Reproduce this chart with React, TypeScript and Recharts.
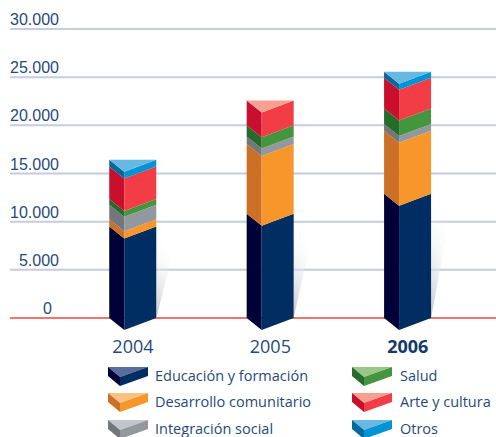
import { Bar, BarChart, CartesianGrid, Legend, XAxis, YAxis } from 'recharts'

const years = ['2004', '2005', '2006']
const educacion = [9490, 10810, 12890]
const desarrollo = [770, 7250, 6550]
const integracion = [1490, 790, 690]
const salud = [590, 1150, 1630]
const arte = [3390, 2590, 3190]
const otros = [690, 0, 620]

const yTicks = [0, 5000, 10000, 15000, 20000, 25000, 30000]
const tickLabels = ['0', '5.000', '10.000', '15.000', '20.000', '25.000', '30.000']

const seriesList = [
  { key: 'educacion', name: 'Educación y formación', values: educacion, front: '#002d62', side: '#000038', top: '#5a6d9e' },
  { key: 'desarrollo', name: 'Desarrollo comunitario', values: desarrollo, front: '#f7962a', side: '#cc7028', top: '#fcc27f' },
  { key: 'integracion', name: 'Integración social', values: integracion, front: '#93989e', side: '#73777c', top: '#c2c6ca' },
  { key: 'salud', name: 'Salud', values: salud, front: '#43963e', side: '#266b2a', top: '#9bc68a' },
  { key: 'arte', name: 'Arte y cultura', values: arte, front: '#f23c46', side: '#c8102e', top: '#f5a090' },
  { key: 'otros', name: 'Otros', values: otros, front: '#0094d4', side: '#006b9a', top: '#68b8e4' }
]

const data = years.map((year, i) => {
  const row: Record<string, string | number> = { year }
  seriesList.forEach(s => {
    row[s.key] = s.values[i]
  })
  return row
})

const TEXT = '#1f4a7c'
const SIDE_W = 15
const DROP = 12

function isTopSegment(index: number, yearIndex: number) {
  return seriesList.slice(index + 1).every(s => s.values[yearIndex] === 0)
}

function Segment(props: any) {
  const { x, y, width, height, seriesIndex, index } = props
  const s = seriesList[seriesIndex]
  if (!height) return null
  const mid = x + SIDE_W
  const right = x + width
  return (
    <g>
      {seriesIndex === 0 && (
        <g>
          <defs>
            <linearGradient id={`shadow${index}`} x1='0' y1='1' x2='0.35' y2='0'>
              <stop offset='0%' stopColor='#c2c4ca' />
              <stop offset='100%' stopColor='#ffffff' stopOpacity='0' />
            </linearGradient>
          </defs>
          <polygon
            points={`${right},${y + height} ${right},${y + 10} ${right + 21},${y + 10}`}
            fill={`url(#shadow${index})`}
          />
        </g>
      )}
      <polygon
        points={`${x},${y} ${mid},${y + DROP} ${mid},${y + height + DROP} ${x},${y + height}`}
        fill={s.side}
      />
      <polygon
        points={`${mid},${y + DROP} ${right},${y} ${right},${y + height} ${mid},${y + height + DROP}`}
        fill={s.front}
      />
      {isTopSegment(seriesIndex, index) && (
        <polygon points={`${x},${y} ${right},${y} ${mid},${y + DROP}`} fill={s.top} />
      )}
    </g>
  )
}

function YTick({ y, payload }: any) {
  const i = yTicks.indexOf(payload.value)
  // the zero label sits further in than the others
  return (
    <text
      x={payload.value === 0 ? 52 : 59}
      y={y - 4}
      textAnchor='end'
      fontFamily='Liberation Sans'
      fontSize={16}
      fill={TEXT}
    >
      {tickLabels[i]}
    </text>
  )
}

function XTick({ x, y, payload }: any) {
  const bold = payload.value === '2006'
  return (
    <text
      x={x}
      y={y + 27}
      textAnchor='middle'
      fontFamily='Open Sans'
      fontSize={18}
      fontWeight={bold ? 700 : 400}
      fill={bold ? '#163a68' : TEXT}
    >
      {payload.value}
    </text>
  )
}

const legendPos = [
  [108, 367],
  [108, 393],
  [108, 420],
  [352, 367],
  [352, 393],
  [352, 420]
]

function LegendBox() {
  return (
    <svg width={496} height={437} style={{ display: 'block', pointerEvents: 'none' }}>
      {seriesList.map((s, i) => {
        const [lx, ly] = legendPos[i]
        return (
          <g key={s.key} transform={`translate(${lx},${ly})`}>
            <polygon points='0,0 40,0 12,10' fill={s.top} />
            <polygon points='0,0 12,10 12,19 0,9' fill={s.side} />
            <polygon points='12,10 40,0 40,9 12,19' fill={s.front} />
            <text x={i < 3 ? 47 : 48} y={13.5} fontFamily='Open Sans' fontSize={14.5} fill={TEXT}>
              {s.name}
            </text>
          </g>
        )
      })}
    </svg>
  )
}

export default function App() {
  return (
    <div style={{ position: 'absolute', left: 0, top: 0, width: 496, height: 437, background: '#fff' }}>
      <BarChart
        width={496}
        height={437}
        data={data}
        margin={{ top: 29, right: 0, left: 0, bottom: 89 }}
        barCategoryGap={0}
      >
        <CartesianGrid vertical={false} stroke='#c6cbdf' strokeWidth={2} horizontalValues={yTicks.slice(1)} />
        <CartesianGrid vertical={false} stroke='#e8483e' strokeWidth={1.5} horizontalValues={[0]} />
        <XAxis
          dataKey='year'
          height={30}
          padding={{ left: 54.25, right: 19.5 }}
          axisLine={false}
          tickLine={false}
          tick={<XTick />}
          interval={0}
        />
        <YAxis
          width={10}
          domain={[0, 30000]}
          ticks={yTicks}
          interval={0}
          axisLine={false}
          tickLine={false}
          tick={<YTick />}
        />
        {seriesList.map((s, i) => (
          <Bar
            key={s.key}
            dataKey={s.key}
            name={s.name}
            stackId='total'
            barSize={47}
            fill={s.front}
            isAnimationActive={false}
            shape={(p: any) => <Segment {...p} seriesIndex={i} />}
          />
        ))}
        <Legend
          content={<LegendBox />}
          layout='vertical'
          align='center'
          verticalAlign='middle'
          wrapperStyle={{ left: 0, top: 0, width: 496, height: 437, margin: 0, pointerEvents: 'none' }}
        />
      </BarChart>
    </div>
  )
}
